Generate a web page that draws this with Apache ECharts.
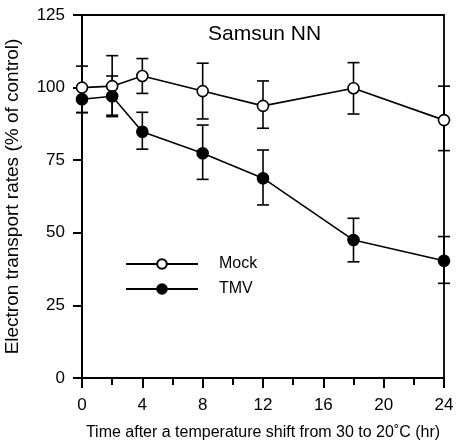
<!DOCTYPE html>
<html>
<head>
<meta charset="utf-8">
<script src="https://cdn.jsdelivr.net/npm/echarts@6/dist/echarts.min.js"></script>
<style>
html,body{margin:0;padding:0;background:#fff;}
#chart{width:456px;height:441px;}
</style>
</head>
<body>
<div id="chart"></div>
<script>
// Data
var times = [0, 2, 4, 8, 12, 18, 24];
var mockMean = [100, 100.5, 104, 98.8, 93.7, 99.8, 88.8];
var mockHigh = [107.4, 111, 110, 108.4, 102.3, 108.6, 100.5];
var mockLow  = [91.4, 90, 98, 89.2, 86, 90.9, 78.3];
var tmvMean  = [96, 97, 84.8, 77.4, 68.8, 47.5, 40.4];
var tmvHigh  = [100.5, 104, 91.5, 87.1, 78.5, 55, 48.7];
var tmvLow   = [91.4, 90.5, 78.8, 68.4, 59.6, 40, 32.6];
var seriesNames = ['Mock', 'TMV'];
var titleText = 'Samsun NN';
var xName = 'Time after a temperature shift from 30 to 20\u02DAC (hr)';
var yName = 'Electron transport rates (% of control)';

var FONT = '"Liberation Sans", Arial, Helvetica, sans-serif';

function pairs(xs, ys) { return xs.map(function (x, i) { return [x, ys[i]]; }); }
function triples(xs, lo, hi) { return xs.map(function (x, i) { return [x, lo[i], hi[i]]; }); }

function errRender(params, api) {
  var x = api.value(0);
  var lo = api.coord([x, api.value(1)]);
  var hi = api.coord([x, api.value(2)]);
  var hw = 6;
  var st = { stroke: '#000', lineWidth: 1.6 };
  return {
    type: 'group',
    children: [
      { type: 'line', shape: { x1: lo[0], y1: lo[1], x2: hi[0], y2: hi[1] }, style: st },
      { type: 'line', shape: { x1: lo[0] - hw, y1: lo[1], x2: lo[0] + hw, y2: lo[1] }, style: st },
      { type: 'line', shape: { x1: hi[0] - hw, y1: hi[1], x2: hi[0] + hw, y2: hi[1] }, style: st }
    ]
  };
}

var chart = echarts.init(document.getElementById('chart'), null, { renderer: 'canvas' });
chart.setOption({
  animation: false,
  backgroundColor: '#fff',
  title: {
    text: titleText,
    left: 208, top: 24, padding: 0,
    textStyle: { fontFamily: FONT, fontSize: 21, fontWeight: 'normal', color: '#000' }
  },
  legend: {
    data: seriesNames,
    orient: 'vertical',
    left: 125, top: 256, padding: 0,
    itemWidth: 72, itemHeight: 12, itemGap: 9,
    textStyle: { fontFamily: FONT, fontSize: 16, color: '#000', padding: [0, 0, 0, 16] }
  },
  grid: {
    left: 82, right: 12, top: 15, bottom: 63,
    show: true, borderColor: '#000', borderWidth: 1.8,
    containLabel: false, outerBoundsMode: 'none'
  },
  xAxis: {
    type: 'value', min: 0, max: 24, interval: 4,
    name: xName, nameLocation: 'middle', nameGap: 47,
    nameTextStyle: { fontFamily: FONT, fontSize: 16, color: '#000' },
    axisLine: { lineStyle: { color: '#000', width: 2 } },
    axisTick: { show: true, length: 10, lineStyle: { color: '#000', width: 2 } },
    minorTick: { show: true, splitNumber: 2, length: 7, lineStyle: { color: '#000', width: 2 } },
    axisLabel: { fontFamily: FONT, fontSize: 17, color: '#000', margin: 19 },
    splitLine: { show: false }
  },
  yAxis: {
    type: 'value', min: 0, max: 125, interval: 25,
    name: yName, nameLocation: 'middle', nameGap: 60,
    nameTextStyle: { fontFamily: FONT, fontSize: 19, color: '#000' },
    axisLine: { lineStyle: { color: '#000', width: 2 } },
    axisTick: { show: true, length: 9, lineStyle: { color: '#000', width: 2 } },
    axisLabel: { fontFamily: FONT, fontSize: 17, color: '#000', margin: 17 },
    splitLine: { show: false }
  },
  series: [
    {
      type: 'custom', name: 'mockErr', renderItem: errRender,
      encode: { x: 0, y: [1, 2] }, data: triples(times, mockLow, mockHigh), z: 1, clip: false
    },
    {
      type: 'custom', name: 'tmvErr', renderItem: errRender,
      encode: { x: 0, y: [1, 2] }, data: triples(times, tmvLow, tmvHigh), z: 1, clip: false
    },
    {
      type: 'line', name: seriesNames[0], data: pairs(times, mockMean),
      symbol: 'circle', symbolSize: 11, z: 5,
      lineStyle: { color: '#000', width: 1.6 },
      itemStyle: { color: '#fff', borderColor: '#000', borderWidth: 1.6 }
    },
    {
      type: 'line', name: seriesNames[1], data: pairs(times, tmvMean),
      symbol: 'circle', symbolSize: 11, z: 6,
      lineStyle: { color: '#000', width: 1.6 },
      itemStyle: { color: '#000', borderColor: '#000', borderWidth: 1.6 }
    }
  ]
});
</script>
</body>
</html>
